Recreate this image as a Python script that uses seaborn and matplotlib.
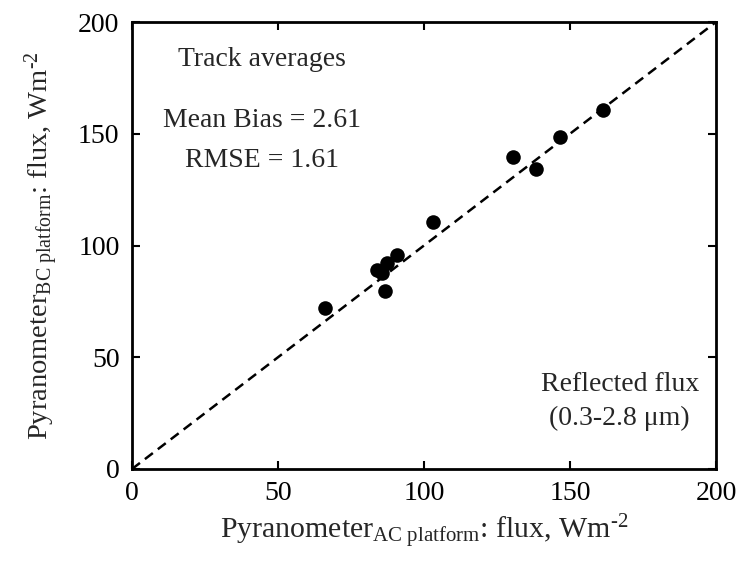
import matplotlib
matplotlib.use("Agg")
import matplotlib.pyplot as plt
import seaborn as sns
import pandas as pd

ac_flux = [66.1, 86.6, 84.0, 85.7, 87.4, 90.6, 103.0, 130.4, 138.4, 146.6, 161.3]
bc_flux = [71.9, 79.8, 89.0, 87.6, 92.3, 95.7, 110.4, 139.7, 134.2, 148.4, 160.6]
line_x = [0, 200]
ticks = [0, 50, 100, 150, 200]

sns.set_theme(style="ticks")
plt.rcParams['font.family'] = ['Liberation Serif', 'DejaVu Serif']
plt.rcParams['mathtext.fontset'] = 'custom'
plt.rcParams['mathtext.rm'] = 'Liberation Serif'
plt.rcParams['mathtext.it'] = 'Liberation Serif:italic'

df = pd.DataFrame({"ac": ac_flux, "bc": bc_flux})
ldf = pd.DataFrame({"x": line_x, "y": line_x})

fig = plt.figure(figsize=(7.42, 5.75), dpi=100)
ax = fig.add_axes([132/742, 1-469/575, 584/742, 447/575])

sns.lineplot(data=ldf, x="x", y="y", ax=ax, color="black", linestyle=(0, (4, 2.5)), linewidth=1.8)
sns.scatterplot(data=df, x="ac", y="bc", ax=ax, color="black", s=110, edgecolor="black", linewidth=0, zorder=3)

ax.set_xlim(0, 200)
ax.set_ylim(0, 200)
ax.set_xticks(ticks)
ax.set_yticks(ticks)
ax.tick_params(direction="in", length=6, width=1.5, top=True, right=True, labelsize=20, pad=9, colors="black")
for sp in ax.spines.values():
    sp.set_linewidth(2)
    sp.set_color("black")

ax.set_xlabel(r"Pyranometer$_{\mathrm{AC\ platform}}$: flux, Wm$^{\text{-2}}$", fontsize=21.5, labelpad=4)
ax.set_ylabel(r"Pyranometer$_{\mathrm{BC\ platform}}$: flux, Wm$^{\text{-2}}$", fontsize=20.5, labelpad=12)

fs = 20
ax.text(44.5, 183, "Track averages", ha="center", va="center", fontsize=fs)
ax.text(44.5, 156, "Mean Bias = 2.61", ha="center", va="center", fontsize=fs)
ax.text(44.5, 138, "RMSE = 1.61", ha="center", va="center", fontsize=fs)
ax.text(167, 37.6, "Reflected flux", ha="center", va="center", fontsize=fs)
ax.text(167, 22.8, "(0.3-2.8 \u03bcm)", ha="center", va="center", fontsize=fs)

fig.savefig("out.png", dpi=100)
